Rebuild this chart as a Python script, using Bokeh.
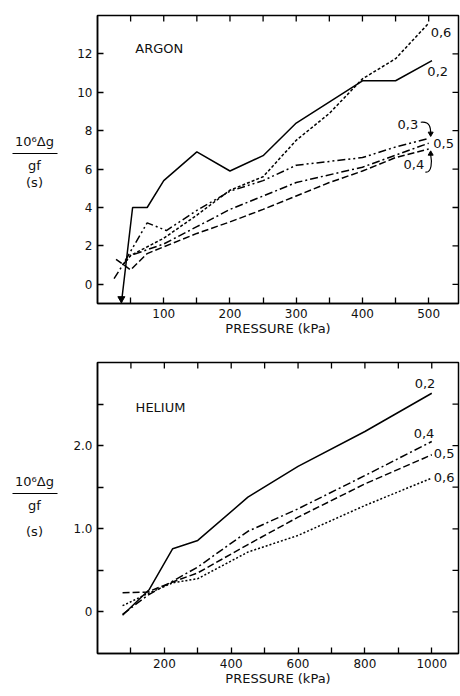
import math
from bokeh.plotting import figure
from bokeh.layouts import column, row
from bokeh.models import Range1d, FixedTicker, Label
from bokeh.core.properties import value
from bokeh.embed import file_html
from bokeh.resources import INLINE

FONT = "DejaVu Sans"

# ---------------- ARGON (top panel) ----------------
ar_pressure_02 = [36, 53, 75, 100, 150, 200, 250, 300, 400, 450, 505]
ar_value_02 = [-1.0, 4.0, 4.0, 5.4, 6.9, 5.9, 6.7, 8.4, 10.6, 10.6, 11.65]

ar_pressure_03 = [25, 38, 75, 104, 150, 200, 250, 300, 400, 450, 500]
ar_value_03 = [0.3, 1.0, 3.2, 2.8, 3.85, 4.85, 5.4, 6.2, 6.6, 7.15, 7.6]

ar_pressure_05 = [38, 50, 100, 150, 200, 250, 300, 400, 500]
ar_value_05 = [1.0, 1.5, 2.1, 3.0, 3.9, 4.6, 5.3, 6.1, 7.35]

ar_pressure_04 = [28, 50, 75, 100, 150, 200, 250, 300, 350, 400, 450, 500]
ar_value_04 = [1.3, 0.75, 1.6, 1.95, 2.65, 3.25, 3.9, 4.6, 5.3, 5.9, 6.6, 7.05]

ar_pressure_06 = [38, 50, 100, 150, 200, 250, 300, 350, 400, 450, 500]
ar_value_06 = [1.0, 1.5, 2.4, 3.6, 4.9, 5.6, 7.5, 8.9, 10.7, 11.75, 13.6]

ar_x_ticks = [100, 200, 300, 400, 500]
ar_x_minor = [50, 150, 250, 350, 450]
ar_y_ticks = [0, 2, 4, 6, 8, 10, 12]
ar_y_minor = []

# ---------------- HELIUM (bottom panel) ----------------
he_pressure = [75, 150, 225, 300, 450, 600, 800, 1000]
he_pressure_02 = [75, 155, 225, 300, 450, 600, 800, 1000]
he_value_02 = [-0.04, 0.27, 0.76, 0.86, 1.38, 1.75, 2.17, 2.63]
he_value_04 = [-0.03, 0.2, 0.37, 0.54, 0.97, 1.24, 1.64, 2.05]
he_value_05 = [0.23, 0.24, 0.36, 0.47, 0.81, 1.14, 1.54, 1.89]
he_value_06 = [0.075, 0.22, 0.35, 0.40, 0.72, 0.92, 1.28, 1.61]

he_x_ticks = [200, 400, 600, 800, 1000]
he_x_minor = [100, 300, 500, 700, 900]
he_y_ticks = [0, 1, 2]
he_y_minor = [0.5, 1.5, 2.5]
he_y_labels = {0: "0", 1: "1.0", 2: "2.0"}

ylabel_lines = ["10⁶Δg", "gf", "(s)"]

SOLID = "solid"
DOT = "3 2"
DOT_FINE = "2 2"
DASH = "7 3"
DASHDOT = "8 3 2 3"
DASHDOTDOT = "8 3 2 3 2 3"

LABEL_W = 60


def make_fig(height, top, bottom, xr, yr):
    p = figure(width=460 - LABEL_W, height=height, output_backend="svg", toolbar_location=None,
               x_range=Range1d(*xr), y_range=Range1d(*yr),
               min_border_left=97 - LABEL_W, min_border_right=2,
               min_border_top=top, min_border_bottom=bottom)
    p.grid.visible = False
    p.outline_line_color = "black"
    p.outline_line_width = 1.5
    p.background_fill_color = "white"
    p.border_fill_color = "white"
    return p


def style_axis(ax, ticks, minor, overrides=None):
    ax.ticker = FixedTicker(ticks=ticks, minor_ticks=minor)
    ax.axis_line_width = 1.5
    ax.axis_line_color = "black"
    ax.major_tick_in = 6
    ax.major_tick_out = 0
    ax.minor_tick_in = 6
    ax.minor_tick_out = 0
    ax.major_tick_line_width = 1.3
    ax.minor_tick_line_width = 1.3
    ax.major_label_text_font = FONT
    ax.major_label_text_color = "#111111"
    ax.major_label_text_font_size = "12px"
    ax.major_label_standoff = 5
    ax.axis_label_text_font = FONT
    ax.axis_label_text_font_style = "normal"
    ax.axis_label_text_font_size = "13px"
    ax.axis_label_text_color = "#111111"
    ax.axis_label_standoff = 0
    if overrides:
        ax.major_label_overrides = overrides


def add_frame(p, xt, xm, yt, ym, xr, yr, yover=None):
    style_axis(p.xaxis[0], xt, xm)
    style_axis(p.yaxis[0], yt, ym, overrides=yover)
    p.xaxis[0].axis_label = "PRESSURE (kPa)"
    # inward ticks on the top and right frame edges (outer half is clipped by the frame)
    xs = list(xt) + list(xm)
    ys = list(yt) + list(ym)
    p.scatter(xs, [yr[1]] * len(xs), marker="dash", angle=math.pi / 2, size=12,
              line_color="black", line_width=1.3)
    p.scatter([xr[1]] * len(ys), ys, marker="dash", size=12,
              line_color="black", line_width=1.3)


def txt(p, x, y, t, align="left", size="13px"):
    p.add_layout(Label(x=x, y=y, text=t, text_font=FONT, text_font_size=size,
                       text_align=align, text_baseline="middle", text_color="#111111"))


def curve(p, x, y, dash):
    p.line(x, y, line_color="black", line_width=1.5, line_dash=dash)


def ylabel_fig(height, top, bottom, ys, line_y):
    # y range in panel pixels (measured from the panel's top), matching the frame of the plot
    q = figure(width=LABEL_W, height=height, output_backend="svg", toolbar_location=None,
               x_range=Range1d(0, LABEL_W), y_range=Range1d(height - bottom, top),
               x_axis_type=None, y_axis_type=None,
               min_border_left=0, min_border_right=0,
               min_border_top=top, min_border_bottom=bottom)
    q.grid.visible = False
    q.outline_line_color = None
    q.text(x=[34] * len(ylabel_lines), y=ys, text=ylabel_lines, text_font=value(FONT),
           text_font_size="13px", text_align="center", text_baseline="middle",
           text_color="#111111")
    q.segment(x0=[12], y0=[line_y], x1=[57], y1=[line_y], line_color="black", line_width=1.2)
    return q


# ---------- top ----------
ar_xr, ar_yr = (0, 545), (-1, 14)
p1 = make_fig(340, 15, 37, ar_xr, ar_yr)
add_frame(p1, ar_x_ticks, ar_x_minor, ar_y_ticks, ar_y_minor, ar_xr, ar_yr)

curve(p1, ar_pressure_02, ar_value_02, SOLID)
curve(p1, ar_pressure_03, ar_value_03, DASHDOTDOT)
curve(p1, ar_pressure_05, ar_value_05, DASHDOT)
curve(p1, ar_pressure_04, ar_value_04, DASH)
curve(p1, ar_pressure_06, ar_value_06, DOT)
p1.scatter([ar_pressure_02[0]], [ar_value_02[0] + 0.25], marker="inverted_triangle",
           size=7, color="black")

txt(p1, 57, 12.3, "ARGON")
txt(p1, 503, 13.1, "0,6")
txt(p1, 498, 11.1, "0,2")
txt(p1, 453, 8.3, "0,3")
txt(p1, 507, 7.33, "0,5")
txt(p1, 462, 6.25, "0,4")

# bracket arrows for 0,3 and 0,4
p1.bezier(x0=[488, 495], y0=[8.44, 5.84], x1=[503, 503], y1=[7.85, 6.75],
          cx0=[503, 505], cy0=[8.5, 5.8], cx1=[503, 505], cy1=[8.1, 6.4],
          line_color="black", line_width=1.2)
p1.scatter([503], [7.85], marker="inverted_triangle", size=5, color="black")
p1.scatter([503], [6.8], marker="triangle", size=5, color="black")

l1 = ylabel_fig(340, 15, 37, [141, 165, 182], 153)

# ---------- bottom ----------
he_xr, he_yr = (0, 1080), (-0.5, 3.0)
p2 = make_fig(356, 22, 43, he_xr, he_yr)
add_frame(p2, he_x_ticks, he_x_minor, he_y_ticks, he_y_minor, he_xr, he_yr, he_y_labels)

curve(p2, he_pressure_02, he_value_02, SOLID)
curve(p2, he_pressure, he_value_04, DASHDOT)
curve(p2, he_pressure, he_value_05, DASH)
curve(p2, he_pressure, he_value_06, DOT_FINE)

txt(p2, 114, 2.46, "HELIUM")
txt(p2, 949, 2.75, "0,2")
txt(p2, 946, 2.15, "0,4")
txt(p2, 1006, 1.91, "0,5")
txt(p2, 1006, 1.62, "0,6")

l2 = ylabel_fig(356, 22, 43, [141, 165, 191], 153)

layout = column(row(l1, p1), row(l2, p2))
open("out.html", "w").write(file_html(layout, INLINE))
